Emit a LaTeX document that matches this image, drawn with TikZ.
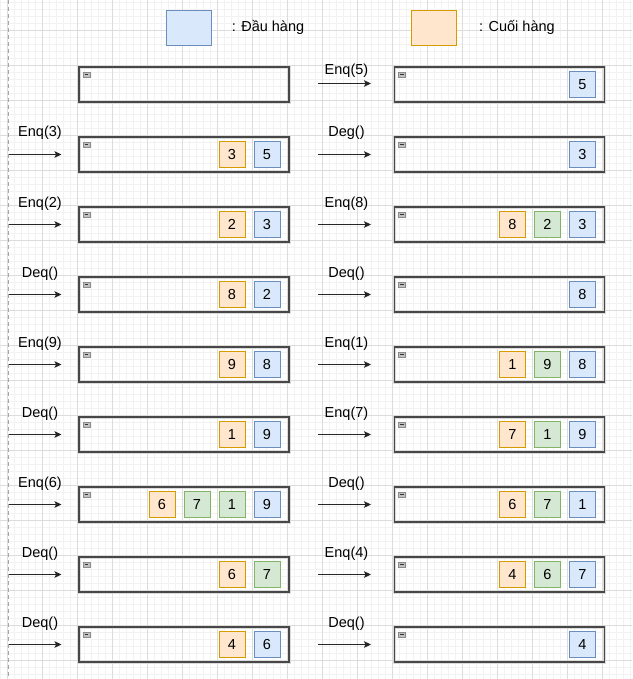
\documentclass[tikz,border=0pt]{standalone}
\usepackage{fontspec}
\setmainfont{Liberation Sans}
\usetikzlibrary{arrows.meta}
\definecolor{bfill}{HTML}{DAE8FC}\definecolor{bline}{HTML}{6C8EBF}
\definecolor{ofill}{HTML}{FFE6CC}\definecolor{oline}{HTML}{D79B00}
\definecolor{gfill}{HTML}{D5E8D4}\definecolor{gline}{HTML}{82B366}
\definecolor{gridminor}{HTML}{F2F2F2}\definecolor{gridmajor}{HTML}{DCDCDC}
\tikzset{
  qbox/.style={draw=black!72, line width=1.2pt, minimum width=210pt, minimum height=35pt,
    inner sep=0pt, outer sep=0pt, preaction={draw=black!14, line width=3.6pt}},
  qicon/.style={draw=black!45, fill=black!25, line width=0.5pt, minimum width=7pt,
    minimum height=5.5pt, inner sep=0pt, outer sep=0pt},
  sq/.style={minimum size=26pt, inner sep=0pt, outer sep=0pt, line width=0.9pt},
  sqb/.style={sq, fill=bfill, draw=bline},
  sqo/.style={sq, fill=ofill, draw=oline},
  sqg/.style={sq, fill=gfill, draw=gline},
  legb/.style={minimum width=45pt, minimum height=35pt, inner sep=0pt, line width=0.9pt, fill=bfill, draw=bline},
  lego/.style={minimum width=45pt, minimum height=35pt, inner sep=0pt, line width=0.9pt, fill=ofill, draw=oline},
  arr/.style={draw=black!85, line width=0.9pt, -{Stealth[length=7pt,width=6.5pt,inset=1.5pt]}},
  oplabel/.style={inner sep=0pt},
  legtext/.style={inner sep=0pt, anchor=west},
}
% #1 name, #2 box center x, #3 y
\newcommand{\qboxat}[3]{%
  \node[qbox] (#1) at (#2,#3) {};
  \node[qicon] (#1-icon) at ([xshift=7.5pt,yshift=-7.7pt]#1.north west) {};
  \draw[black!80, line width=0.9pt] ([xshift=1.6pt]#1-icon.west) -- ([xshift=-1.6pt]#1-icon.east);
}
% #1 name, #2 box center x, #3 y, #4 items (colour/number, rightmost first)
\newcommand{\qitems}[4]{%
  \foreach \c/\n [count=\k] in {#4} {
    \pgfmathsetmacro\sx{#2+83-35*(\k-1)}
    \node[sq\c] (#1-\k) at (\sx,#3) {\n};
  }
}
% #1 name, #2 arrow start x, #3 arrow end x, #4 y, #5 label x, #6 label y, #7 label
\newcommand{\qop}[7]{%
  \coordinate (#1-s) at (#2,#4);
  \coordinate (#1-e) at (#3,#4);
  \draw[arr] (#1-s) -- (#1-e);
  \node[oplabel] (#1-lab) at (#5,#6) {#7};
}
\begin{document}
\begin{tikzpicture}[x=1pt,y=-1pt,font=\fontsize{14.5}{17}\selectfont]
\useasboundingbox (0,0) rectangle (632,679);
\fill[white] (0,0) rectangle (632,679);
% grid
\foreach \i in {0,...,90} \draw[gridminor, line width=0.7pt] (0.7+7*\i,0) -- (0.7+7*\i,679);
\foreach \j in {0,...,96} \draw[gridminor, line width=0.7pt] (0,2.7+7*\j) -- (632,2.7+7*\j);
\foreach \i in {0,...,18} \draw[gridmajor, line width=0.8pt] (7.7+35*\i,0) -- (7.7+35*\i,679);
\foreach \j in {0,...,18} \draw[gridmajor, line width=0.8pt] (0,30.7+35*\j) -- (632,30.7+35*\j);
\draw[black!35, line width=0.8pt, dash pattern=on 4pt off 3pt] (8.7,0) -- (8.7,679);
% legend
\node[legb] (legA) at (188.5,27.5) {};
\node[legtext] (legAt) at (231.7,27) {: Đầu hàng};
\node[lego] (legB) at (433.5,27.5) {};
\node[legtext] (legBt) at (479,27) {: Cuối hàng};
% left column
\qboxat{L1}{184}{84.5}
\qboxat{L2}{184}{154.5} \qitems{L2}{184}{154.5}{b/5,o/3}
\qop{aL2}{9}{61.5}{154.5}{40}{133}{Enq(3)}
\qboxat{L3}{184}{224.5} \qitems{L3}{184}{224.5}{b/3,o/2}
\qop{aL3}{9}{61.5}{224.5}{40}{203.5}{Enq(2)}
\qboxat{L4}{184}{294.5} \qitems{L4}{184}{294.5}{b/2,o/8}
\qop{aL4}{9}{61.5}{294.5}{40}{273.5}{Deq()}
\qboxat{L5}{184}{364.5} \qitems{L5}{184}{364.5}{b/8,o/9}
\qop{aL5}{9}{61.5}{364.5}{40}{343.5}{Enq(9)}
\qboxat{L6}{184}{434.5} \qitems{L6}{184}{434.5}{b/9,o/1}
\qop{aL6}{9}{61.5}{434.5}{40}{413.5}{Deq()}
\qboxat{L7}{184}{504.5} \qitems{L7}{184}{504.5}{b/9,g/1,g/7,o/6}
\qop{aL7}{9}{61.5}{504.5}{40}{483.5}{Enq(6)}
\qboxat{L8}{184}{574.5} \qitems{L8}{184}{574.5}{g/7,o/6}
\qop{aL8}{9}{61.5}{574.5}{40}{553.5}{Deq()}
\qboxat{L9}{184}{644.5} \qitems{L9}{184}{644.5}{b/6,o/4}
\qop{aL9}{9}{61.5}{644.5}{40}{623.5}{Deq()}
% right column
\qboxat{R1}{499.3}{84.5} \qitems{R1}{499.3}{84.5}{b/5}
\qop{aR1}{318}{371}{83.5}{346.5}{71}{Enq(5)}
\qboxat{R2}{499.3}{154.5} \qitems{R2}{499.3}{154.5}{b/3}
\qop{aR2}{318}{371}{154.5}{346.5}{133}{Deg()}
\qboxat{R3}{499.3}{224.5} \qitems{R3}{499.3}{224.5}{b/3,g/2,o/8}
\qop{aR3}{318}{371}{224.5}{346.5}{203.5}{Enq(8)}
\qboxat{R4}{499.3}{294.5} \qitems{R4}{499.3}{294.5}{b/8}
\qop{aR4}{318}{371}{294.5}{346.5}{273.5}{Deq()}
\qboxat{R5}{499.3}{364.5} \qitems{R5}{499.3}{364.5}{b/8,g/9,o/1}
\qop{aR5}{318}{371}{364.5}{346.5}{343.5}{Enq(1)}
\qboxat{R6}{499.3}{434.5} \qitems{R6}{499.3}{434.5}{b/9,g/1,o/7}
\qop{aR6}{318}{371}{434.5}{346.5}{413.5}{Enq(7)}
\qboxat{R7}{499.3}{504.5} \qitems{R7}{499.3}{504.5}{b/1,g/7,o/6}
\qop{aR7}{318}{371}{504.5}{346.5}{483.5}{Deq()}
\qboxat{R8}{499.3}{574.5} \qitems{R8}{499.3}{574.5}{b/7,g/6,o/4}
\qop{aR8}{318}{371}{574.5}{346.5}{553.5}{Enq(4)}
\qboxat{R9}{499.3}{644.5} \qitems{R9}{499.3}{644.5}{b/4}
\qop{aR9}{318}{371}{644.5}{346.5}{623.5}{Deq()}
\end{tikzpicture}
\end{document}
